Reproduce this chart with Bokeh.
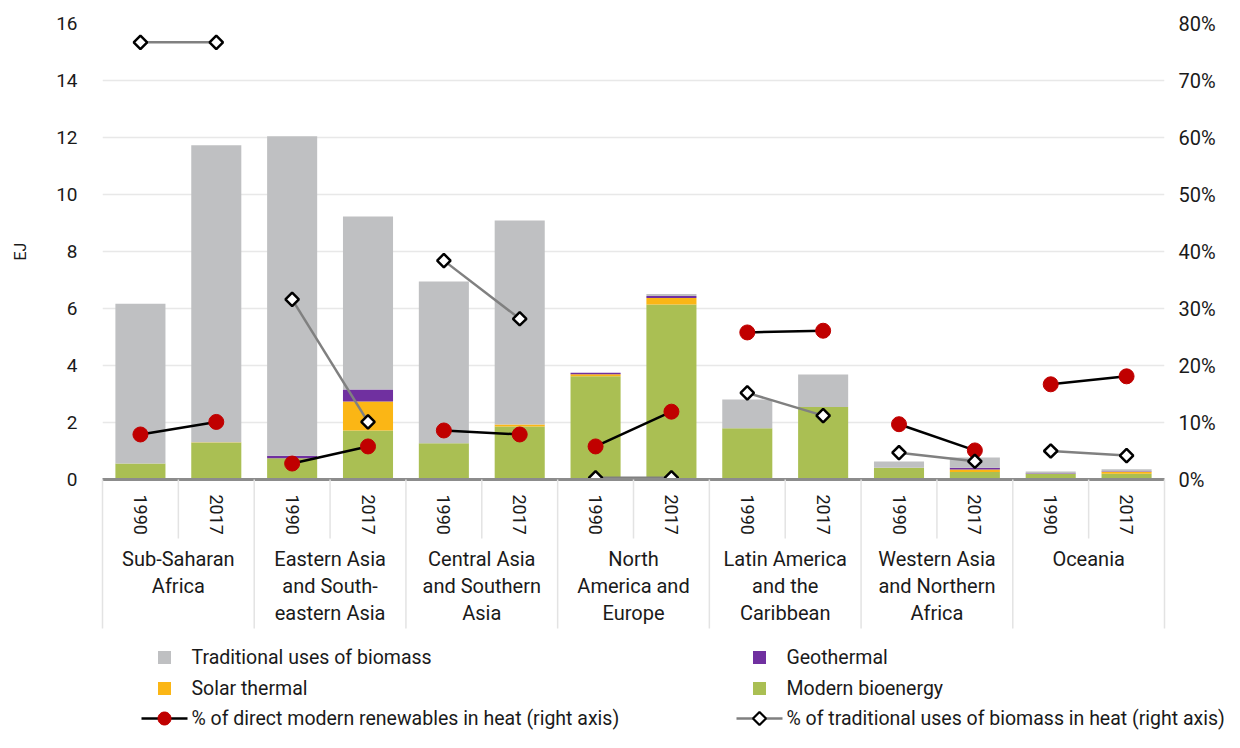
import numpy as np
from bokeh.plotting import figure
from bokeh.models import (ColumnDataSource, FactorRange, Range1d, LinearAxis,
                          SingleIntervalTicker, PrintfTickFormatter)
from bokeh.core.properties import value
from bokeh.embed import file_html
from bokeh.resources import INLINE

# ---------------- data ----------------
regions = ["Sub-Saharan\nAfrica", "Eastern Asia\nand South-\neastern Asia",
           "Central Asia\nand Southern\nAsia", "North\nAmerica and\nEurope",
           "Latin America\nand the\nCaribbean", "Western Asia\nand Northern\nAfrica",
           "Oceania"]
years = ["1990", "2017"]

# EJ, order: region by region, 1990 then 2017
modern_bioenergy = [0.56, 1.30, 0.75, 1.72, 1.27, 1.86, 3.62, 6.14, 1.80, 2.54, 0.41, 0.26, 0.20, 0.20]
solar_thermal    = [0.00, 0.01, 0.00, 1.02, 0.00, 0.07, 0.07, 0.23, 0.00, 0.00, 0.00, 0.09, 0.00, 0.07]
geothermal       = [0.00, 0.00, 0.08, 0.42, 0.00, 0.00, 0.06, 0.07, 0.00, 0.00, 0.00, 0.06, 0.02, 0.02]
traditional      = [5.61, 10.42, 11.21, 6.07, 5.68, 7.16, 0.00, 0.07, 1.01, 1.14, 0.22, 0.36, 0.06, 0.07]

# % (right axis)
pct_modern_renewables = [7.9, 10.1, 2.8, 5.8, 8.6, 7.9, 5.8, 11.9, 25.8, 26.1, 9.7, 5.1, 16.7, 18.1]
pct_traditional       = [76.7, 76.7, 31.6, 10.1, 38.4, 28.2, 0.3, 0.3, 15.2, 11.2, 4.7, 3.2, 5.0, 4.2]

# legend entries, laid out in two columns and three rows
legend_labels = ["Traditional uses of biomass", "Geothermal",
                 "Solar thermal", "Modern bioenergy",
                 "% of direct modern renewables in heat (right axis)",
                 "% of traditional uses of biomass in heat (right axis)"]

# ---------------- styles ----------------
FONT = "Roboto"
C_MODERN, C_SOLAR, C_GEO, C_TRAD = "#AABF53", "#FBB615", "#7030A0", "#BFC0C2"
C_RED = "#C00000"
C_GREYLINE = "#808080"
TXT = "#1a1a1a"
SEP = "#e3e3e3"

factors = [(r, y) for r in regions for y in years]

src = ColumnDataSource(dict(
    x=factors, modern=modern_bioenergy, solar=solar_thermal, geo=geothermal, trad=traditional,
    pm=pct_modern_renewables, pt=pct_traditional))

FRAME_L, FRAME_R, FRAME_T, FRAME_B = 102, 1164, 23, 479
W, H = 1224, 732
p = figure(x_range=FactorRange(*factors, range_padding=0, group_padding=0, factor_padding=0),
           y_range=Range1d(0, 16), width=W, height=H,
           output_backend="svg", toolbar_location=None,
           min_border_left=FRAME_L, min_border_right=W - FRAME_R, min_border_top=FRAME_T,
           min_border_bottom=H - FRAME_B)
p.extra_y_ranges = {"pct": Range1d(0, 80)}
p.outline_line_color = None
p.background_fill_color = "white"
p.xgrid.visible = False
p.ygrid.grid_line_color = "#e8e8e8"
p.ygrid.grid_line_width = 1.5
p.yaxis.ticker = SingleIntervalTicker(interval=2)

# stacked bars
p.vbar_stack(["modern", "solar", "geo", "trad"], x="x", width=0.66,
             fill_color=[C_MODERN, C_SOLAR, C_GEO, C_TRAD], line_color=None, source=src)

# connecting lines within each region + markers
for i, r in enumerate(regions):
    p.line(x=[(r, years[0]), (r, years[1])], y=pct_modern_renewables[2 * i:2 * i + 2],
           line_color="black", line_width=2.5, y_range_name="pct")
p.scatter(x="x", y="pm", source=src, marker="circle", size=15,
          fill_color=C_RED, line_color=C_RED, y_range_name="pct")
for i, r in enumerate(regions):
    p.line(x=[(r, years[0]), (r, years[1])], y=pct_traditional[2 * i:2 * i + 2],
           line_color=C_GREYLINE, line_width=2.5, y_range_name="pct")
p.scatter(x="x", y="pt", source=src, marker="square", angle=np.pi / 4, size=9.5,
          fill_color="white", line_color="black", line_width=2.5, y_range_name="pct")

# ---- helpers converting page pixels (below the frame) to data coordinates ----
n = len(factors)
ppx = (FRAME_R - FRAME_L) / n          # pixels per category
ppu = (FRAME_B - FRAME_T) / 16.0       # pixels per EJ
def dx(px):
    return (px - FRAME_L) / ppx
def dy(py):
    return (FRAME_B - py) / ppu

# separators below the axis (between years: short; between regions and at edges: long)
yr_sep = [float(k) for k in range(1, n, 2)]
rg_sep = [float(k) for k in range(0, n + 1, 2)]
p.segment(x0=yr_sep, y0=[0] * len(yr_sep), x1=yr_sep, y1=[dy(538)] * len(yr_sep),
          line_color=SEP, line_width=1.5, level="overlay")
p.segment(x0=rg_sep, y0=[0] * len(rg_sep), x1=rg_sep, y1=[dy(628)] * len(rg_sep),
          line_color=SEP, line_width=1.5, level="overlay")

# axes
ax = p.yaxis[0]
ax.axis_line_color = None
ax.major_tick_line_color = None
ax.minor_tick_line_color = None
ax.major_label_standoff = 19
ax.major_label_text_font = FONT
ax.major_label_text_font_size = "19px"
ax.major_label_text_color = TXT
ax.axis_label = "EJ"
ax.axis_label_text_font = FONT
ax.axis_label_text_font_size = "16px"
ax.axis_label_text_font_style = "normal"
ax.axis_label_text_color = TXT
ax.axis_label_standoff = 23

rax = LinearAxis(y_range_name="pct", ticker=SingleIntervalTicker(interval=10),
                 formatter=PrintfTickFormatter(format="%d%%"))
rax.axis_line_color = None
rax.major_tick_line_color = None
rax.minor_tick_line_color = None
rax.major_label_standoff = 8
rax.major_label_text_font = FONT
rax.major_label_text_font_size = "20px"
rax.major_label_text_color = TXT
p.add_layout(rax, "right")

xa = p.xaxis[0]
xa.axis_line_color = "#8c8c8c"
xa.axis_line_width = 3
xa.major_tick_line_color = None
xa.minor_tick_line_color = None
xa.major_label_orientation = "vertical"
xa.major_label_standoff = 9
xa.major_label_text_font = FONT
xa.major_label_text_font_size = "18px"
xa.major_label_text_color = TXT
xa.group_text_font = FONT
xa.group_text_font_size = "20px"
xa.group_text_color = TXT
xa.group_text_font_style = "normal"
xa.group_text_line_height = 1.12
xa.separator_line_color = None

# ---------------- legend (drawn below the axis) ----------------
col_glyph = [(141, 187), (736, 782)]
row_y = [657, 688, 718]
sw_colors = {0: C_TRAD, 1: C_GEO, 2: C_SOLAR, 3: C_MODERN}

def shape(cx_px, cy_px, kind, r=6.5):
    if kind == "square":
        ox, oy = [-r, r, r, -r], [-r, -r, r, r]
    elif kind == "diamond":
        ox, oy = [0, r, 0, -r], [-r, 0, r, 0]
    else:
        t = np.linspace(0, 2 * np.pi, 32, endpoint=False)
        ox, oy = list(r * np.cos(t)), list(r * np.sin(t))
    return ([dx(cx_px + a) for a in ox], [dy(cy_px + b) for b in oy])

for k, lab in enumerate(legend_labels):
    row, col = divmod(k, 2)
    gx0, gx1 = col_glyph[col]
    cxp, cyp = (gx0 + gx1) / 2, row_y[row]
    cy = dy(cyp)
    if k in sw_colors:
        xs, ys = shape(cxp, cyp, "square")
        p.patch(x=xs, y=ys, fill_color=sw_colors[k], line_color=None, level="overlay")
    elif k == 4:
        p.segment(x0=[dx(gx0)], y0=[cy], x1=[dx(gx1)], y1=[cy], line_color="black",
                  line_width=2.5, level="overlay")
        xs, ys = shape(cxp, cyp, "circle", 6.5)
        p.patch(x=xs, y=ys, fill_color=C_RED, line_color=C_RED, line_width=1, level="overlay")
    else:
        p.segment(x0=[dx(gx0)], y0=[cy], x1=[dx(gx1)], y1=[cy], line_color=C_GREYLINE,
                  line_width=2.5, level="overlay")
        xs, ys = shape(cxp, cyp, "diamond", 6.5)
        p.patch(x=xs, y=ys, fill_color="white", line_color="black", line_width=2.2,
                level="overlay")
    p.text(x=[dx(gx1 + 4)], y=[cy], text=[lab], text_font=value(FONT), text_font_size="19.5px",
           text_color=TXT, text_baseline="middle", text_align="left", level="overlay")

open("out.html", "w").write(file_html(p, INLINE))
